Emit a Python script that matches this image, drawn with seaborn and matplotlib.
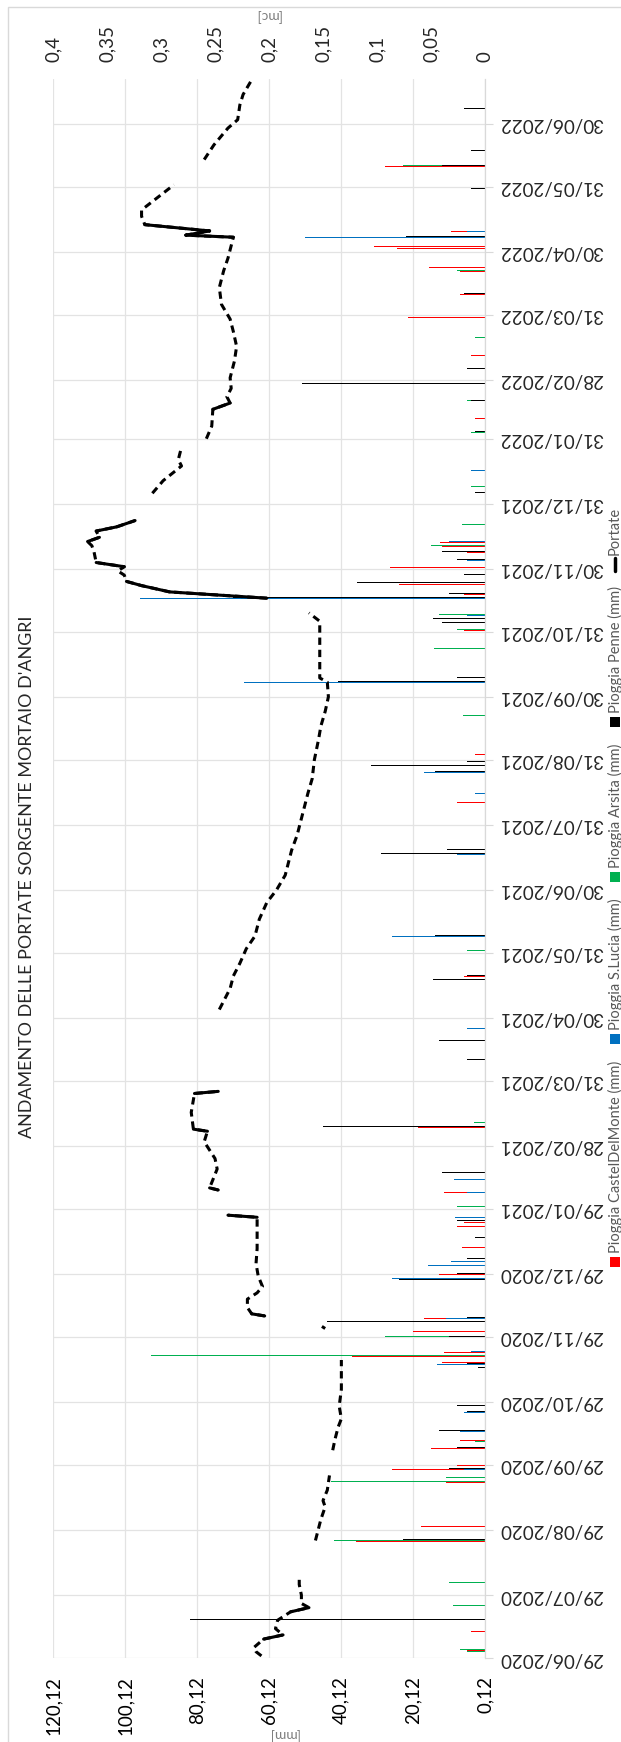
import numpy as np
import pandas as pd
import seaborn as sns
import matplotlib
matplotlib.use('Agg')
import matplotlib.pyplot as plt
from matplotlib.patches import Rectangle
from matplotlib.lines import Line2D

START = pd.Timestamp('2020-06-29')
END = pd.Timestamp('2022-07-22')

date_ticks = ['29/06/2020', '29/07/2020', '29/08/2020', '29/09/2020', '29/10/2020',
              '29/11/2020', '29/12/2020', '29/01/2021', '28/02/2021', '31/03/2021',
              '30/04/2021', '31/05/2021', '30/06/2021', '31/07/2021', '31/08/2021',
              '30/09/2021', '31/10/2021', '30/11/2021', '31/12/2021', '31/01/2022',
              '28/02/2022', '31/03/2022', '30/04/2022', '31/05/2022', '30/06/2022']
mm_ticks = [0.12, 20.12, 40.12, 60.12, 80.12, 100.12, 120.12]
mc_ticks = [0, 0.05, 0.1, 0.15, 0.2, 0.25, 0.3, 0.35, 0.4]

# rain (mm) per station
cdm_dates = ['2020-07-03', '2020-07-12', '2020-07-16', '2020-07-17', '2020-08-24', '2020-08-31',
             '2020-09-21', '2020-09-27', '2020-09-29', '2020-10-07', '2020-10-11', '2020-10-15',
             '2020-10-24', '2020-11-17', '2020-11-20', '2020-11-22', '2020-12-02', '2020-12-06',
             '2020-12-08', '2020-12-29', '2021-01-04', '2021-01-11', '2021-01-21', '2021-01-23',
             '2021-02-06', '2021-02-13', '2021-03-09', '2021-03-16', '2021-04-25', '2021-05-20',
             '2021-06-08', '2021-07-17', '2021-08-11', '2021-08-25', '2021-09-03', '2021-10-07',
             '2021-11-01', '2021-11-04', '2021-11-16', '2021-11-18', '2021-11-23', '2021-11-25',
             '2021-12-01', '2021-12-08', '2021-12-11', '2021-12-13', '2021-12-26', '2021-12-27',
             '2022-01-24', '2022-02-10', '2022-03-12', '2022-03-30', '2022-04-10', '2022-04-21',
             '2022-04-23', '2022-05-02', '2022-05-03', '2022-05-10', '2022-06-10', '2022-06-17',
             '2022-07-07', '2022-07-17']
cdm_mm = [5, 4, 5, 4, 36, 18,
          11, 26, 8, 15, 7, 22,
          7, 12, 37, 11.5, 20, 53,
          17, 13, 6, 6.6, 7.8, 6,
          11.5, 11.5, 18.6, 4, 4, 6,
          8.5, 10, 8, 15, 3, 30,
          6, 12.7, 81, 6, 24, 10,
          26.4, 5, 12, 12.6, 6.2, 7.8,
          3, 3, 4, 21.6, 7, 7,
          15.8, 24.6, 31, 9.7, 28, 11.4,
          6, 2]

slu_dates = ['2020-07-03', '2020-08-02', '2020-08-24', '2020-08-31', '2020-09-27', '2020-09-29',
             '2020-10-15', '2020-10-24', '2020-11-16', '2020-11-20', '2020-11-22', '2020-11-29',
             '2020-12-08', '2020-12-27', '2021-01-02', '2021-01-04', '2021-01-09', '2021-01-25',
             '2021-02-06', '2021-02-12', '2021-04-25', '2021-06-08', '2021-07-17', '2021-08-11',
             '2021-08-15', '2021-08-21', '2021-08-25', '2021-09-29', '2021-10-07', '2021-10-12',
             '2021-10-23', '2021-11-08', '2021-11-16', '2021-12-04', '2021-12-11', '2021-12-13',
             '2022-01-16', '2022-03-12', '2022-05-03', '2022-05-07', '2022-05-10', '2022-06-10',
             '2022-07-12']
slu_mm = [21, 10, 8, 5, 6, 4,
          7, 6, 13.5, 30, 4, 17.5,
          11, 26, 16, 9.5, 8.6, 8.5,
          5, 8.6, 5, 26, 8, 8,
          3, 2, 17, 5.5, 67, 11.6,
          3, 5, 96, 5, 21, 10,
          4, 3, 5, 50, 5, 36,
          6]

ars_dates = ['2020-07-02', '2020-07-03', '2020-07-17', '2020-07-24', '2020-08-04', '2020-08-24',
             '2020-09-21', '2020-09-23', '2020-10-07', '2020-10-10', '2020-10-27', '2020-11-05',
             '2020-11-20', '2020-11-29', '2020-12-06', '2020-12-26', '2021-01-25', '2021-01-30',
             '2021-02-15', '2021-03-09', '2021-03-11', '2021-04-19', '2021-04-28', '2021-06-01',
             '2021-06-17', '2021-07-17', '2021-09-21', '2021-10-07', '2021-10-23', '2021-11-01',
             '2021-11-06', '2021-11-08', '2021-11-16', '2021-12-11', '2021-12-21', '2022-01-08',
             '2022-01-16', '2022-02-03', '2022-02-18', '2022-03-20', '2022-04-21', '2022-05-07',
             '2022-06-10', '2022-07-07']
ars_mm = [5, 7, 38, 9, 10, 42,
          43, 11, 13, 3, 11, 3,
          93, 28, 11, 8, 6, 8,
          14.7, 40, 3.3, 6, 3, 5,
          5.6, 64, 6.2, 53, 14.3, 8,
          8, 13, 51, 15, 6.6, 4,
          10, 4, 5, 3, 8, 12,
          23, 6]

pen_dates = ['2020-07-03', '2020-07-17', '2020-08-02', '2020-08-24', '2020-08-31', '2020-09-21',
             '2020-09-27', '2020-10-03', '2020-10-07', '2020-10-10', '2020-10-15', '2020-10-24',
             '2020-10-27', '2020-11-14', '2020-11-16', '2020-11-20', '2020-11-29', '2020-12-02',
             '2020-12-06', '2020-12-08', '2020-12-10', '2020-12-26', '2020-12-29', '2021-01-05',
             '2021-01-15', '2021-01-23', '2021-02-15', '2021-03-09', '2021-04-03', '2021-04-10',
             '2021-04-19', '2021-05-18', '2021-05-20', '2021-06-08', '2021-07-17', '2021-07-19',
             '2021-08-25', '2021-08-28', '2021-08-30', '2021-10-07', '2021-10-09', '2021-10-12',
             '2021-11-04', '2021-11-06', '2021-11-16', '2021-11-18', '2021-11-23', '2021-11-27',
             '2021-12-01', '2021-12-04', '2021-12-08', '2021-12-11', '2022-01-05', '2022-02-03',
             '2022-02-18', '2022-02-26', '2022-03-05', '2022-04-10', '2022-04-21', '2022-05-07',
             '2022-05-30', '2022-06-10', '2022-06-17', '2022-07-07', '2022-07-12']
pen_mm = [24, 82, 16, 23, 15, 29,
          10, 4, 8, 7, 13, 5,
          8, 2, 5, 80, 10, 3,
          44, 5, 3, 24, 8, 5,
          3, 8, 12, 45, 26.5, 5,
          13, 14.5, 5, 14, 29, 10.6,
          14, 31.7, 5, 41, 8, 8,
          12, 14.6, 70, 10, 35.6, 6,
          8, 8, 12, 34, 3, 3,
          4, 51, 5, 6, 8, 22,
          4, 12, 4, 6, 6]

# spring flow (mc); nan = no reading (line break)
portate_dates = ['2020-06-30', '2020-07-02', '2020-07-04', '2020-07-08', '2020-07-10', '2020-07-13',
                 '2020-07-17', '2020-07-21', '2020-07-23', '2020-07-25', '2020-07-29', '2020-08-03',
                 '2020-08-07', '2020-08-13',
                 '2020-08-24', '2020-08-28', '2020-09-03', '2020-09-09', '2020-09-12', '2020-09-17',
                 '2020-09-24', '2020-09-30',
                 '2020-10-06', '2020-10-11', '2020-10-17', '2020-10-21', '2020-10-27', '2020-11-04',
                 '2020-11-11', '2020-11-18', '2020-11-26',
                 '2020-12-03', '2020-12-04', '2020-12-06',
                 '2020-12-09', '2020-12-10', '2020-12-13', '2020-12-17', '2020-12-20', '2020-12-23',
                 '2020-12-28', '2021-01-03', '2021-01-10', '2021-01-17', '2021-01-25', '2021-01-26',
                 '2021-01-31',
                 '2021-02-07', '2021-02-08', '2021-02-17', '2021-02-22', '2021-03-02', '2021-03-07',
                 '2021-03-08', '2021-03-16', '2021-03-22', '2021-03-25', '2021-03-26', '2021-04-05',
                 '2021-05-04', '2021-05-06', '2021-05-14', '2021-05-20', '2021-05-26', '2021-06-02',
                 '2021-06-08', '2021-06-16', '2021-06-24', '2021-06-30', '2021-07-07', '2021-07-13',
                 '2021-07-19', '2021-07-26', '2021-08-03', '2021-08-09', '2021-08-15', '2021-08-22',
                 '2021-08-31', '2021-09-10', '2021-09-16', '2021-09-23', '2021-09-30', '2021-10-07',
                 '2021-10-09', '2021-10-17', '2021-10-27', '2021-11-05', '2021-11-09', '2021-11-13',
                 '2021-11-16', '2021-11-19', '2021-11-22', '2021-11-24', '2021-11-27', '2021-11-29',
                 '2021-12-01', '2021-12-03', '2021-12-08', '2021-12-11', '2021-12-13', '2021-12-15',
                 '2021-12-18', '2021-12-20', '2021-12-23', '2021-12-29',
                 '2022-01-05', '2022-01-11', '2022-01-18', '2022-01-21', '2022-01-27', '2022-01-29',
                 '2022-01-31', '2022-02-06', '2022-02-14', '2022-02-17', '2022-02-20', '2022-02-24',
                 '2022-03-01', '2022-03-09', '2022-03-16', '2022-03-23', '2022-03-29', '2022-04-05',
                 '2022-04-13', '2022-04-21', '2022-04-27', '2022-05-05', '2022-05-07', '2022-05-08',
                 '2022-05-10', '2022-05-13', '2022-05-17', '2022-05-20', '2022-05-24', '2022-06-01',
                 '2022-06-07',
                 '2022-06-13', '2022-06-20', '2022-06-28', '2022-07-02', '2022-07-09', '2022-07-14',
                 '2022-07-21']
portate_mc = [0.207, 0.212, 0.214, 0.205, 0.187, 0.194,
              0.192, 0.180, 0.163, 0.170, 0.170, 0.172,
              0.172, np.nan,
              0.157, 0.155, 0.152, 0.148, 0.150, 0.146,
              0.144, np.nan,
              0.141, 0.139, 0.136, 0.133, 0.135, 0.133,
              0.133, 0.133, np.nan,
              0.148, 0.151, np.nan,
              0.204, 0.216, 0.220, 0.220, 0.211, 0.206,
              0.210, 0.212, 0.211, 0.211, 0.211, 0.238,
              np.nan,
              0.247, 0.255, 0.248, 0.250, 0.260, 0.257,
              0.270, 0.272, 0.270, 0.269, 0.247, np.nan,
              0.246, 0.244, 0.236, 0.233, 0.227, 0.221,
              0.213, 0.209, 0.202, 0.193, 0.185, 0.182,
              0.179, 0.174, 0.170, 0.167, 0.164, 0.160,
              0.158, 0.154, 0.152, 0.148, 0.145, 0.146,
              0.153, 0.153, 0.153, 0.153, 0.163, np.nan,
              0.202, 0.292, 0.318, 0.332, 0.334, 0.340,
              0.334, 0.360, 0.362, 0.364, 0.368, 0.357,
              0.360, 0.341, 0.324, np.nan,
              0.308, 0.298, 0.281, 0.284, 0.281, np.nan,
              0.258, 0.253, 0.252, 0.236, 0.239, 0.235,
              0.236, 0.232, 0.230, 0.233, 0.236, 0.244,
              0.246, 0.242, 0.238, 0.234, 0.233, 0.277,
              0.255, 0.315, 0.318, 0.318, 0.308, 0.288,
              np.nan,
              0.260, 0.251, 0.238, 0.229, 0.227, 0.224,
              0.216]

legend_labels = ['Pioggia CastelDelMonte (mm)', 'Pioggia S.Lucia (mm)', 'Pioggia Arsita (mm)',
                 'Pioggia Penne (mm)', 'Portate']
colors = ['#FF0000', '#0070C0', '#00B050', '#000000']

W, H = 621, 1742
PL, PR, PT, PB = 53, 485, 79, 1658

sns.set_style('white')
plt.rcParams['font.family'] = ['Lato', 'DejaVu Sans']


def day_of(dates, fmt=None):
    d = pd.to_datetime(pd.Series(dates), format=fmt)
    return (d - START).dt.days.to_numpy(dtype=float)


fig = plt.figure(figsize=(W / 100, H / 100), dpi=100)
ax = fig.add_axes([PL / W, 1 - PB / H, (PR - PL) / W, (PB - PT) / H])

# rain bars, four per day side by side
series = [(cdm_dates, cdm_mm), (slu_dates, slu_mm), (ars_dates, ars_mm), (pen_dates, pen_mm)]
for i, (dts, vals) in enumerate(series):
    ax.barh(day_of(dts) + (i - 1.5) * 0.22, vals, height=0.32, color=colors[i], lw=0, zorder=2)

ymax = (END - START).days - 0.6
ax.set_xlim(120.12, 0.12)
ax.set_ylim(0, ymax)
ax.set_xticks(mm_ticks)
ax.set_xticklabels([f'{v:.2f}'.replace('.', ',') for v in mm_ticks], rotation=90,
                   fontsize=13.5, color='#000000')
ax.tick_params(axis='x', length=0, pad=13)
tick_days = day_of(date_ticks, fmt='%d/%m/%Y')
ax.yaxis.tick_right()
ax.set_yticks(tick_days)
ax.set_yticklabels(date_ticks, rotation=180, va='center', ha='left', fontsize=13.5)
ax.tick_params(axis='y', length=6, width=0.8, color='#D9D9D9', pad=4)
ax.grid(True, color='#E3E3E3', lw=0.9, zorder=0)
ax.set_axisbelow(True)
for s in ['left', 'top', 'bottom']:
    ax.spines[s].set_visible(False)
ax.spines['right'].set_color('#D9D9D9')
ax.spines['right'].set_linewidth(0.9)

# flow line on the secondary axis
ax2 = ax.twiny()
ax2.set_xlim(0.4, 0)
ax2.set_ylim(0, ymax)
ax2.set_xticks(mc_ticks)
ax2.set_xticklabels([f'{v:g}'.replace('.', ',') for v in mc_ticks], rotation=90, fontsize=13.5)
ax2.tick_params(axis='x', length=0, pad=12)
for s in ax2.spines.values():
    s.set_visible(False)

flow = pd.DataFrame({'day': day_of(portate_dates), 'mc': portate_mc})
flow['run'] = flow['mc'].isna().cumsum()
flow = flow.dropna()
sns.lineplot(data=flow, x='mc', y='day', units='run', estimator=None, sort=False,
             orient='y', color='black', lw=2.2, linestyle=(0, (2.4, 1.6)), ax=ax2, zorder=4)
# fast changes read as solid strokes in the original
for _, g in flow.groupby('run'):
    d = g['day'].to_numpy()
    m = g['mc'].to_numpy()
    for k in range(len(d) - 1):
        if abs(m[k + 1] - m[k]) / (d[k + 1] - d[k]) > 0.004:
            ax2.plot(m[k:k + 2], d[k:k + 2], color='black', lw=2.2, solid_capstyle='round', zorder=5)
ax2.set_xlabel('')
ax2.set_ylabel('')


def px(x, y):
    return x / W, 1 - y / H


def fit(t, length):
    r = fig.canvas.get_renderer()
    bb = t.get_window_extent(r)
    t.set_fontsize(t.get_fontsize() * length / max(bb.width, bb.height))


title = fig.text(*px(27, 877), "ANDAMENTO DELLE PORTATE SORGENTE MORTAIO D'ANGRI", rotation=90,
                 ha='center', va='center', fontsize=14, color='#262626')
fit(title, 520)

fig.text(*px(283, 1734), '[mm]', rotation=180, ha='center', va='center', fontsize=10, color='#7F7F7F')
fig.text(*px(268, 15), '[mc]', rotation=180, ha='center', va='center', fontsize=10, color='#7F7F7F')

# legend, rotated like the chart: laid out bottom to top
renderer = fig.canvas.get_renderer()
texts = []
for lab in legend_labels:
    t = fig.text(0, 0, lab, rotation=90, ha='center', va='bottom', fontsize=10.5, color='#595959')
    texts.append(t)
lengths = [t.get_window_extent(renderer).height for t in texts]
y_first, y_last = 1262, 500          # first marker centre, end of last text
marker = 12
gap = (y_first - y_last - sum(lengths) - marker * len(texts) - 4 * len(texts)) / (len(texts) - 1)
yy = y_first
for i, t in enumerate(texts):
    if i < 4:
        fig.patches.append(Rectangle(px(610, yy + 5), 10 / W, 10 / H, transform=fig.transFigure,
                                     color=colors[i], lw=0))
    else:
        fig.lines.append(Line2D([615 / W, 615 / W], [1 - (yy + 7) / H, 1 - (yy - 6) / H],
                                transform=fig.transFigure, color='black', lw=2.5))
    t.set_position(px(615, yy - 9))
    yy = yy - 9 - lengths[i] - gap - 4 - marker + 9

# chart border
fig.patches.append(Rectangle((8 / W, -0.01), 1.0, 1 - 7 / H + 0.01, transform=fig.transFigure,
                             fill=False, ec='#D9D9D9', lw=1))

fig.savefig('out.png', dpi=100)
